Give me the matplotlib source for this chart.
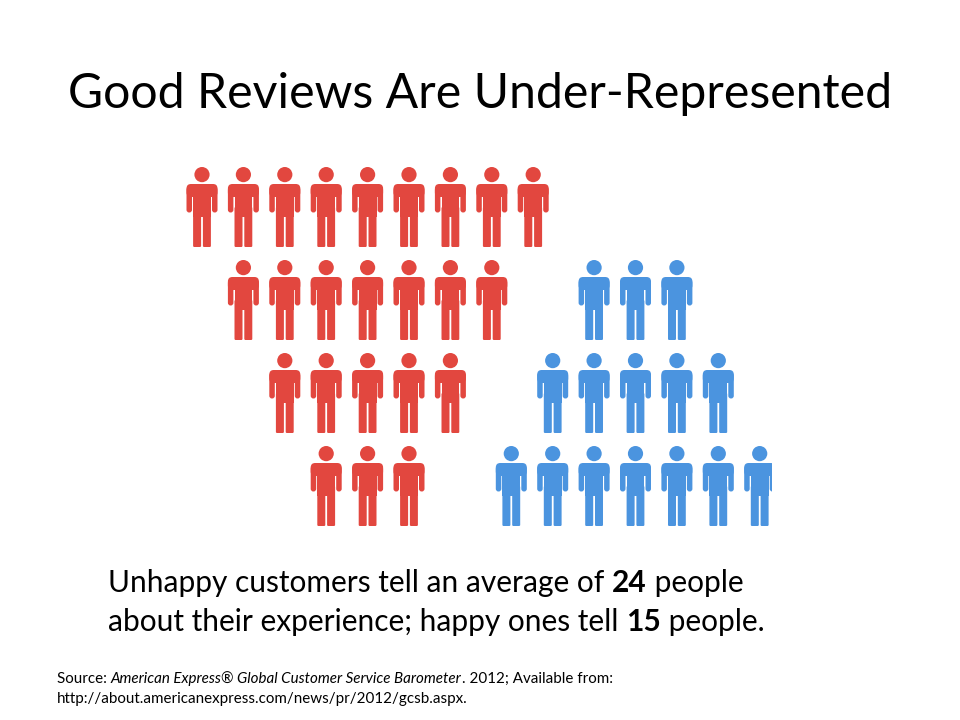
import matplotlib
matplotlib.use("Agg")
import matplotlib.pyplot as plt
from matplotlib.patches import Circle, FancyBboxPatch, Rectangle

# people per row (top to bottom); 0 means an empty row
unhappy_rows = [9, 7, 5, 3]
happy_rows = [0, 3, 5, 7]
unhappy_total = sum(unhappy_rows)
happy_total = sum(happy_rows)

title = "Good Reviews Are Under-Represented"
line1 = ["Unhappy customers tell an average of ", str(unhappy_total), " people"]
line2 = ["about their experience; happy ones tell ", str(happy_total), " people."]
source1 = ["Source: ", "American Express\u00ae Global Customer Service Barometer", ". 2012; Available from:"]
source2 = "http://about.americanexpress.com/news/pr/2012/gcsb.aspx."

RED = "#E2473F"
BLUE = "#4B94DF"
FONT = "Lato"


def rounded(x0, y0, x1, y1, r):
    return FancyBboxPatch((x0 + r, y0 + r), (x1 - x0) - 2 * r, (y1 - y0) - 2 * r,
                          boxstyle=f"round,pad={r}")


def person(ax, cx, top, color, clip=None):
    parts = [
        Circle((cx, top + 7.6), 7.6),
        rounded(cx - 15.5, top + 17, cx + 15.5, top + 30, 4.5),
        rounded(cx - 15.5, top + 20, cx - 10.0, top + 45.5, 2.7),
        rounded(cx + 10.0, top + 20, cx + 15.5, top + 45.5, 2.7),
        Rectangle((cx - 8.9, top + 20), 17.8, 30),
        rounded(cx - 8.9, top + 40, cx - 0.9, top + 80, 1.2),
        rounded(cx + 0.9, top + 40, cx + 8.9, top + 80, 1.2),
    ]
    for p in parts:
        p.set_facecolor(color)
        p.set_edgecolor("none")
        ax.add_patch(p)
        if clip is not None:
            p.set_clip_path(clip)


def draw_group(ax, rows, center_x, color, clip=None):
    step_x, step_y, top0 = 41.4, 93, 167
    for i, n in enumerate(rows):
        for j in range(n):
            cx = center_x + (j - (n - 1) / 2) * step_x
            person(ax, cx, top0 + i * step_y, color, clip)


def chain(fig, ax, x, y, pieces, styles, size):
    # write text pieces one after another on the same baseline
    renderer = fig.canvas.get_renderer()
    for txt, st in zip(pieces, styles):
        kw = dict(fontsize=size, family=FONT, va="baseline", ha="left", color="black")
        kw.update(st)
        t = ax.text(x, y, txt, **kw)
        bb = t.get_window_extent(renderer)
        x += bb.width  # axes span the whole figure, 1 data unit = 1 pixel


def main():
    fig = plt.figure(figsize=(9.6, 7.2), dpi=100)
    ax = fig.add_axes([0, 0, 1, 1])
    ax.set_xlim(0, 960)
    ax.set_ylim(720, 0)
    ax.axis("off")

    draw_group(ax, unhappy_rows, 367.6, RED)
    clip = Rectangle((0, 0), 772, 720, transform=ax.transData)
    draw_group(ax, happy_rows, 635.5, BLUE, clip)

    ax.text(68, 108, title, fontsize=34.7, family=FONT, va="baseline", ha="left")

    chain(fig, ax, 108, 592, line1, [{}, {"weight": "bold"}, {}], 21.5)
    chain(fig, ax, 108, 631, line2, [{}, {"weight": "bold"}, {}], 21.5)

    chain(fig, ax, 57, 683, source1, [{}, {"style": "italic"}, {}], 10.9)
    ax.text(57, 703, source2, fontsize=10.9, family=FONT, va="baseline", ha="left")

    fig.savefig("out.png", dpi=100)


if __name__ == "__main__":
    main()
